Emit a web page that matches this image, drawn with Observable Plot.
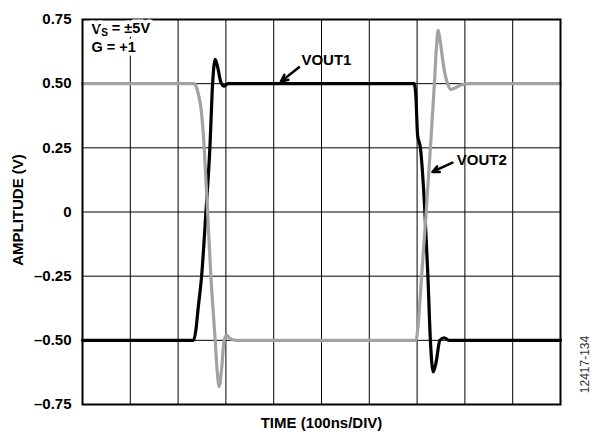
<!DOCTYPE html>
<html><head><meta charset="utf-8">
<script src="https://cdn.jsdelivr.net/npm/d3@7"></script>
<script src="https://cdn.jsdelivr.net/npm/@observablehq/plot@0.6"></script>
<style>body{margin:0;background:#fff}</style>
</head><body><div id="chart"></div>
<script>
// Time in ns (100 ns per division), amplitude in V
const vout1Time  = [0, 232.4, 237.2, 242.1, 249.2, 258.2, 266.5, 272.2, 277.6, 283.3, 289.5, 296.4, 304.2, 693.9, 697.5, 701.0, 706.9, 716.3, 722.6, 727.8, 733.7, 739.3, 747.7, 756.7, 766.5, 1000];
const vout1Value = [-0.5, -0.5, -0.46, -0.372, -0.25, 0, 0.25, 0.5, 0.595, 0.56, 0.505, 0.49, 0.5, 0.5, 0.45, 0.30, 0.25, 0, -0.25, -0.5, -0.623, -0.59, -0.5, -0.49, -0.5, -0.5];
const vout2Time  = [0, 233.7, 239.3, 243.5, 247.7, 254.6, 261.7, 268.6, 277.6, 281.8, 286.0, 290.6, 296.4, 302.1, 306.9, 320.9, 697.5, 701.7, 709.4, 719.0, 727.8, 736.2, 740.4, 744.1, 748.7, 756.1, 763.8, 770.7, 781.2, 791.6, 812.6, 1000];
const vout2Value = [0.5, 0.5, 0.48, 0.45, 0.407, 0.25, 0, -0.25, -0.5, -0.62, -0.68, -0.62, -0.5, -0.48, -0.49, -0.5, -0.5, -0.45, -0.25, 0, 0.25, 0.5, 0.64, 0.708, 0.66, 0.56, 0.5, 0.478, 0.485, 0.495, 0.5, 0.5];
const yTicks = [-0.75, -0.5, -0.25, 0, 0.25, 0.5, 0.75];
const yTickLabels = ["–0.75", "–0.50", "–0.25", "0", "0.25", "0.50", "0.75"];
const xGrid = [0, 100, 200, 300, 400, 500, 600, 700, 800, 900, 1000];
const seriesLabels = ["VOUT1", "VOUT2"];
// annotation arrows (data coordinates): tail -> tip
const arrowX1 = [453, 774];
const arrowY1 = [0.564, 0.192];
const arrowX2 = [415, 732];
const arrowY2 = [0.508, 0.156];
const labelX = [458, 783];
const labelY = [0.592, 0.201];

const vout1 = vout1Time.map((t, i) => ({t, v: vout1Value[i]}));
const vout2 = vout2Time.map((t, i) => ({t, v: vout2Value[i]}));
const annots = seriesLabels.map((s, i) => ({s, x1: arrowX1[i], y1: arrowY1[i], x2: arrowX2[i], y2: arrowY2[i], lx: labelX[i], ly: labelY[i]}));

const chart = Plot.plot({
  width: 593, height: 437,
  marginLeft: 82, marginRight: 33, marginTop: 19, marginBottom: 33,
  style: {fontFamily: "'Liberation Sans', Arial, sans-serif", fontSize: "15px", fontWeight: "bold", background: "#fff", color: "#000"},
  x: {domain: [0, 1000]},
  y: {domain: [-0.75, 0.75]},
  marks: [
    Plot.gridX(xGrid, {stroke: "#000", strokeOpacity: 1, strokeWidth: 1}),
    Plot.gridY(yTicks, {stroke: "#000", strokeOpacity: 1, strokeWidth: 1}),
    Plot.axisY(yTicks, {tickSize: 0, tickPadding: 11, tickFormat: (d) => yTickLabels[yTicks.indexOf(d)], label: null, fontSize: 15, fontWeight: "bold"}),
    Plot.axisX({ticks: [], label: null}),
    Plot.line(vout1, {x: "t", y: "v", stroke: "#000", strokeWidth: 3.2, curve: "monotone-x"}),
    Plot.line(vout2, {x: "t", y: "v", stroke: "#a2a2a2", strokeWidth: 3.2, curve: "monotone-x"}),
    Plot.frame({stroke: "#000", strokeWidth: 2}),
    Plot.arrow(annots, {x1: "x1", y1: "y1", x2: "x2", y2: "y2", stroke: "#000", strokeWidth: 2.5, headLength: 9, headAngle: 50}),
    Plot.text(annots, {x: "lx", y: "ly", text: "s", textAnchor: "start", fontWeight: "bold", fontSize: 15}),
    Plot.text(["VS = ±5V"], {frameAnchor: "top-left", dx: 9, dy: 10, textAnchor: "start", lineAnchor: "middle", fontWeight: "bold", fontSize: 14.5, fill: "#000", stroke: "#fff", strokeWidth: 7}),
    Plot.text(["G = +1"], {frameAnchor: "top-left", dx: 9, dy: 27.5, textAnchor: "start", lineAnchor: "middle", fontWeight: "bold", fontSize: 14.5, fill: "#000", stroke: "#fff", strokeWidth: 7}),
    Plot.text(["AMPLITUDE (V)"], {frameAnchor: "left", dx: -64, dy: -2, rotate: -90, textAnchor: "middle", lineAnchor: "middle", fontWeight: "bold", fontSize: 15}),
    Plot.text(["TIME (100ns/DIV)"], {frameAnchor: "bottom", dy: 19, textAnchor: "middle", lineAnchor: "middle", fontWeight: "bold", fontSize: 15}),
    Plot.text(["12417-134"], {frameAnchor: "bottom-right", dx: 25, dy: -40, rotate: -90, textAnchor: "middle", lineAnchor: "middle", fontWeight: "normal", fontSize: 12, fill: "#333"})
  ]
});
document.getElementById("chart").appendChild(chart);

// subscript S in "VS = ±5V"
d3.select(chart).selectAll("text").each(function() {
  if (this.textContent === "VS = ±5V") {
    const t = d3.select(this);
    t.text(null);
    t.append("tspan").text("V");
    t.append("tspan").attr("dy", "0.22em").attr("font-size", 10).text("S");
    t.append("tspan").attr("dy", "-0.22em").text(" = ±5V");
  }
});
</script>
</body></html>
